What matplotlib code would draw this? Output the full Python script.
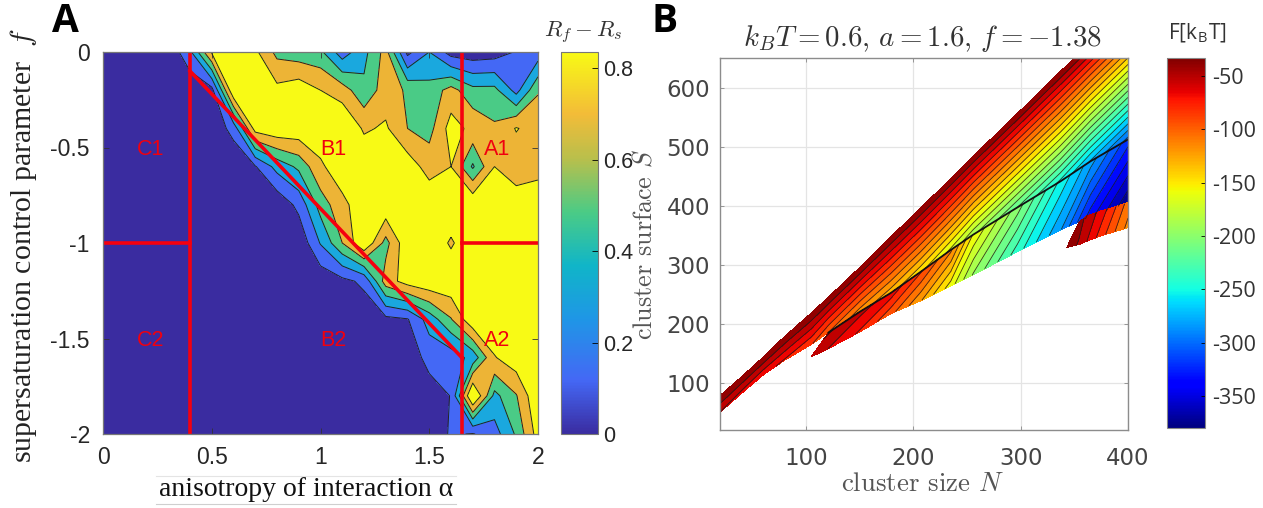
import numpy as np
import matplotlib
matplotlib.use("Agg")
import matplotlib.pyplot as plt
from matplotlib.cm import ScalarMappable
from matplotlib.colors import LinearSegmentedColormap, Normalize
from matplotlib.lines import Line2D

W, H = 1263, 508

# =============================================================================== #
# DATA PANEL A

alpha = [0.0, 0.1, 0.2, 0.3, 0.4, 0.5, 0.6, 0.7, 0.8, 0.9, 1.0,
         1.1, 1.2, 1.3, 1.4, 1.5, 1.6, 1.7, 1.8, 1.9, 2.0]
f_param = [0.0, -0.2, -0.4, -0.6, -0.8, -1.0, -1.2, -1.4, -1.6, -1.8, -2.0]

r0 = [.03, .03, .03, .03, .25, .71, .75, .72, .51, .47, .45, .20, .38, .60, .10, .28, .08, .05, .07, .15, .20]
r1 = [.03, .03, .03, .03, .03, .09, .82, .83, .73, .78, .69, .62, .45, .62, .53, .47, .60, .46, .46, .23, .54]
r2 = [.03, .03, .03, .03, .03, .04, .19, .75, .80, .79, .80, .83, .67, .71, .55, .50, .75, .65, .57, .70, .62]
r3 = [.03, .03, .03, .03, .03, .03, .03, .13, .33, .45, .66, .80, .80, .80, .77, .63, .69, .40, .69, .60, .62]
r4 = [.03, .03, .03, .03, .03, .03, .03, .03, .03, .18, .48, .64, .80, .80, .80, .80, .80, .81, .80, .78, .82]
r5 = [.03, .03, .03, .03, .03, .03, .03, .03, .03, .03, .29, .55, .82, .50, .80, .80, .67, .80, .80, .80, .82]
r6 = [.03, .03, .03, .03, .03, .03, .03, .03, .03, .03, .04, .10, .17, .62, .75, .80, .80, .82, .82, .82, .82]
r7 = [.03, .03, .03, .03, .03, .03, .03, .03, .03, .03, .03, .03, .05, .10, .13, .34, .54, .80, .82, .82, .82]
r8 = [.03, .03, .03, .03, .03, .03, .03, .03, .03, .03, .03, .03, .03, .03, .05, .19, .20, .33, .68, .78, .82]
r9 = [.03, .03, .03, .03, .03, .03, .03, .03, .03, .03, .03, .03, .03, .03, .03, .07, .145, .87, .38, .54, .82]
r10 = [.03, .03, .03, .03, .03, .03, .03, .03, .03, .03, .03, .03, .03, .03, .03, .03, .16, .13, .22, .44, .75]

levels_a = [0, .14, .28, .42, .55, .69, .9]
colors_a = ["#3a2ca0", "#4468f5", "#1aa8de", "#4acb86", "#edb436", "#f8fa15"]

# =============================================================================== #
# DATA PANEL B

n1 = [20, 40, 60, 80, 105, 121, 150, 179, 207, 235, 256, 297, 337, 365, 400]
s1_top = [78, 110, 143, 178, 218, 245, 295, 347, 396, 446, 484, 556, 627, 677, 739]
s1_bot = [50, 82, 113, 138, 165, 185, 220, 252, 288, 325, 351, 397, 441, 475, 512]
f1_top = [-34, -34, -34, -34, -34, -34, -34, -34, -34, -34, -34, -34, -34, -34, -34]
f1_bot = [-60, -65, -70, -75, -85, -100, -120, -135, -150, -170, -190, -220, -250, -275, -305]

n2 = [105, 121, 150, 179, 207, 235, 256, 297, 337, 365, 400]
s2_top = [144, 185, 220, 252, 288, 325, 351, 397, 441, 475, 512]
s2_bot = [144, 158, 186, 217, 239, 264, 283, 322, 359, 381, 405]
f2_top = [-50, -45, -55, -65, -85, -110, -155, -200, -250, -280, -320]
f2_bot = [-50, -60, -75, -95, -125, -160, -195, -240, -285, -335, -378]

n3 = [343, 354, 362, 375, 388, 400]
s3_top = [329, 371, 383, 391, 398, 405]
s3_bot = [329, 334, 340, 349, 356, 363]
f3_top = [-38, -40, -50, -65, -85, -105]
f3_bot = [-38, -48, -60, -80, -100, -118]

levels_b = np.linspace(-380, -33, 27)

# =============================================================================== #
# HELPERS


def eixo(x0, y0, x1, y1):
    return fig.add_axes([x0 / W, 1 - y1 / H, (x1 - x0) / W, (y1 - y0) / H])


def texto(x, y, s, **kw):
    fig.text(x / W, 1 - y / H, s, ha="center", va="center", **kw)


plt.rcParams["mathtext.fontset"] = "cm"
fig = plt.figure(figsize=(W / 100, H / 100), dpi=100)

# =============================================================================== #
# PANEL A

ax = eixo(103, 52, 538, 434)
z = np.array([r0, r1, r2, r3, r4, r5, r6, r7, r8, r9, r10])
ax.contourf(alpha, f_param, z, levels=levels_a, colors=colors_a)
ax.contour(alpha, f_param, z, levels=levels_a[1:-1], colors="#222222", linewidths=0.7)

ax.plot([0.4, 0.4], [0, -2], color="#f5000f", lw=2.6)
ax.plot([1.65, 1.65], [0, -2], color="#f5000f", lw=2.6)
ax.plot([0.4, 1.65], [-0.1, -1.6], color="#f5000f", lw=2.6)
ax.plot([0, 0.4], [-1, -1], color="#f5000f", lw=2.6)
ax.plot([1.65, 2], [-1, -1], color="#f5000f", lw=2.6)

for nome, xa, ya in [("C1", 0.22, -0.51), ("B1", 1.06, -0.51), ("A1", 1.81, -0.51),
                     ("C2", 0.22, -1.51), ("B2", 1.06, -1.51), ("A2", 1.81, -1.51)]:
    ax.text(xa, ya, nome, color="#f0000f", fontsize=15.5, ha="center", va="center",
            family="Liberation Sans")

ax.set_xlim(0, 2)
ax.set_ylim(-2, 0)
ax.set_xticks([0, 0.5, 1, 1.5, 2])
ax.set_xticklabels(["0", "0.5", "1", "1.5", "2"])
ax.set_yticks([0, -0.5, -1, -1.5, -2])
ax.set_yticklabels(["0", "-0.5", "-1", "-1.5", "-2"])
ax.tick_params(direction="in", top=True, right=True, length=4, width=0.6, color="#333333",
               labelsize=16.5, labelcolor="#262626")
ax.tick_params(axis="x", pad=9)
ax.tick_params(axis="y", pad=9.5)
for lab in ax.get_xticklabels() + ax.get_yticklabels():
    lab.set_family("Liberation Sans")
for sp in ax.spines.values():
    sp.set_color("#777777")
    sp.set_linewidth(0.9)

texto(24, 246, r"supersaturation control parameter  $f$", rotation=90, fontsize=21.5,
      family="Liberation Serif", color="#222222")
texto(306, 490, "anisotropy of interaction α", fontsize=20, family="Liberation Serif", color="#111111")
fig.add_artist(Line2D([156 / W, 456 / W], [1 - 476 / H, 1 - 476 / H], color="#e4e4e4", lw=0.8))
fig.add_artist(Line2D([156 / W, 456 / W], [1 - 504 / H, 1 - 504 / H], color="#cfcfcf", lw=0.8))

parula = LinearSegmentedColormap.from_list(
    "parula_aprox",
    [(0, "#3a2ca0"), (0.14, "#4468f5"), (0.30, "#1f96e6"), (0.44, "#10b5c8"),
     (0.58, "#4acb86"), (0.72, "#b8bf4c"), (0.84, "#f3bc38"), (1, "#f8fa15")],
)
cax = eixo(561, 52, 598, 434)
cb = fig.colorbar(ScalarMappable(Normalize(0, 0.835), parula), cax=cax)
cb.set_ticks([0, 0.2, 0.4, 0.6, 0.8])
cb.set_ticklabels(["0", "0.2", "0.4", "0.6", "0.8"])
cb.ax.tick_params(direction="in", length=4, width=0.6, labelsize=15.5, pad=4, labelcolor="#262626")
for lab in cb.ax.get_yticklabels():
    lab.set_family("Liberation Sans")
cb.outline.set_edgecolor("#777777")
texto(583, 33, r"$R_f-R_s$", fontsize=16.5, color="#333333")

texto(65, 21, "A", fontsize=28, fontweight="bold", family="Open Sans", color="black")
texto(665, 22, "B", fontsize=28, fontweight="bold", family="Open Sans", color="black")

# =============================================================================== #
# PANEL B

bx = eixo(720, 58, 1128, 430)
bx.set_axisbelow(True)
bx.grid(color="#e4e4e4", lw=0.9)

for n, s_top, s_bot, f_top, f_bot in [(n1, s1_top, s1_bot, f1_top, f1_bot),
                                      (n2, s2_top, s2_bot, f2_top, f2_bot),
                                      (n3, s3_top, s3_bot, f3_top, f3_bot)]:
    xg = np.array([n, n])
    yg = np.array([s_top, s_bot])
    zg = np.array([f_top, f_bot])
    bx.contourf(xg, yg, zg, levels=levels_b, cmap="jet", vmin=-380, vmax=-33)
    bx.contour(xg, yg, zg, levels=levels_b, colors="#1a1a1a", linewidths=0.6, linestyles="solid", alpha=0.85)

bx.plot(n2[1:], s2_top[1:], color="#111111", lw=1.3)

bx.set_xlim(20, 400)
bx.set_ylim(20, 650)
bx.set_xticks([100, 200, 300, 400])
bx.set_yticks([100, 200, 300, 400, 500, 600])
bx.tick_params(direction="in", top=True, right=True, length=3, width=0.6, color="#888888",
               labelsize=16.5, labelcolor="#444444")
bx.tick_params(axis="x", pad=12)
bx.tick_params(axis="y", pad=7)
for sp in bx.spines.values():
    sp.set_color("#8c8c8c")
    sp.set_linewidth(1.0)

texto(923, 38, r"$k_BT=0.6,\,a=1.6,\,f=-1.38$", fontsize=20.8, color="#333333")
texto(922, 484, r"cluster size $N$", fontsize=19.3, family="cmr10", color="#555555")
texto(644, 245, r"cluster surface $S$", rotation=90, fontsize=18.8, family="cmr10", color="#555555")

dax = eixo(1167, 58, 1205, 428)
cb2 = fig.colorbar(ScalarMappable(Normalize(-380, -33), "jet"), cax=dax)
cb2.set_ticks([-50, -100, -150, -200, -250, -300, -350])
cb2.set_ticklabels(["-50", "-100", "-150", "-200", "-250", "-300", "-350"])
cb2.ax.tick_params(direction="in", length=3, width=0.6, labelsize=15.5, pad=5, labelcolor="#333333")
for lab in cb2.ax.get_yticklabels():
    lab.set_family("Open Sans")
cb2.outline.set_edgecolor("#888888")
texto(1197, 33, r"F[k$_{\mathregular{B}}$T]", fontsize=15, family="Open Sans", color="#333333")

fig.savefig("out.png", dpi=100)
